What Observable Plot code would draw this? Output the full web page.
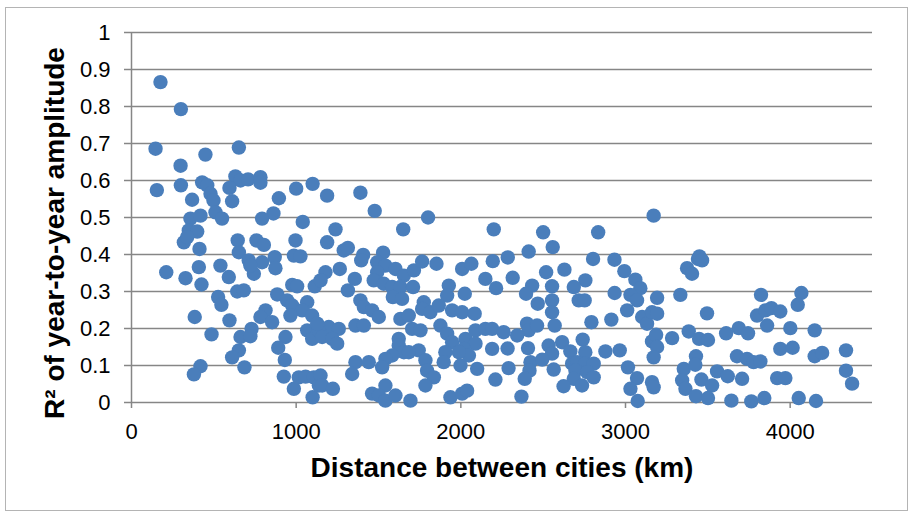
<!DOCTYPE html>
<html><head><meta charset="utf-8">
<script src="https://cdn.jsdelivr.net/npm/d3@7"></script>
<script src="https://cdn.jsdelivr.net/npm/@observablehq/plot@0.6"></script>
<style>
html,body{margin:0;padding:0;background:#fff;}
#chart{position:relative;width:914px;height:512px;}
</style></head><body><div id="chart"></div>
<script>
const distanceKm = [
176,300,146,652,449,298,154,300,429,460,480,498,368,631,662,708,783,783,595,611,895,1000,1100,510,550,358,419,862,793,1040,
1188,1390,1477,1801,3171,
348,399,318,338,413,645,652,759,804,996,986,1026,870,712,793,874,743,722,540,591,409,211,328,425,976,1006,1113,642,682,885,526,546,945,976,1067,1036,965,1097,814,783,854,384,595,729,1067,1097,486,662,722,935,891,652,611,931,419,379,686,925,986,1016,1057,1107,1100,1138,
1239,1650,2200,1188,1289,1314,1407,1395,1528,1492,1542,1492,1471,1532,1603,1654,1715,1765,1852,2008,2064,2194,2285,1178,1148,1265,1356,1314,1583,1633,1710,1587,1643,1927,1917,2024,2149,2214,1390,1411,1461,1502,1775,1765,1815,1866,1947,2008,2084,1633,1684,1360,1411,1198,1259,1138,1158,1219,1249,1128,1704,1755,1623,1876,1917,1947,2028,2089,2149,2190,2260,2190,2284,2089,2018,2049,1988,1906,1896,1998,2099,2210,1623,1654,1583,1542,1744,1785,1795,1836,1785,1360,1441,1340,1522,1684,1148,1158,1223,1461,1542,1502,1542,1603,1694,1937,2008,2038,2290,
2500,2834,2412,2558,2803,2933,2993,3060,3090,3374,3404,3440,2315,2518,2629,2433,2396,2554,2756,2686,2934,3030,3070,3192,3333,2467,2554,2554,2716,2752,3010,3101,3131,3161,3192,2793,2914,2402,2412,2463,2570,2342,2408,2533,2615,2740,2665,2554,2756,2878,2965,3161,3186,3283,3384,3192,3171,2423,2494,2417,2388,2368,2564,2676,2706,2756,2807,2696,2767,2807,2686,2736,2624,3015,3070,3030,3074,3161,3171,3354,3344,3364,3428,3428,3447,
3449,3465,3823,4068,4046,3495,3799,3850,3886,3940,3860,3688,3744,3611,4001,4149,3501,3940,4015,4149,4194,4339,3677,3738,3778,3819,3424,3556,3621,3708,3461,3526,3921,3971,4339,4376,3501,3643,3764,3843,4052,4157
];
const r2 = [
0.866,0.793,0.686,0.689,0.670,0.640,0.574,0.587,0.595,0.587,0.564,0.546,0.548,0.611,0.600,0.603,0.609,0.594,0.580,0.544,0.552,0.578,0.591,0.514,0.497,0.497,0.505,0.511,0.497,0.488,
0.559,0.567,0.518,0.500,0.505,
0.465,0.462,0.433,0.447,0.415,0.438,0.406,0.438,0.426,0.438,0.397,0.395,0.393,0.384,0.379,0.363,0.348,0.370,0.370,0.339,0.366,0.352,0.336,0.319,0.318,0.314,0.314,0.300,0.303,0.292,0.285,0.264,0.276,0.262,0.271,0.249,0.235,0.235,0.249,0.231,0.217,0.231,0.222,0.199,0.195,0.172,0.184,0.177,0.179,0.177,0.148,0.141,0.122,0.115,0.098,0.076,0.095,0.070,0.037,0.068,0.070,0.068,0.014,0.046,
0.468,0.468,0.468,0.433,0.411,0.418,0.399,0.384,0.405,0.379,0.370,0.352,0.330,0.321,0.361,0.343,0.357,0.381,0.375,0.361,0.375,0.382,0.392,0.352,0.330,0.361,0.334,0.303,0.312,0.312,0.312,0.285,0.280,0.316,0.289,0.294,0.334,0.309,0.276,0.258,0.249,0.231,0.271,0.253,0.244,0.262,0.249,0.244,0.240,0.226,0.235,0.208,0.208,0.204,0.199,0.195,0.177,0.172,0.159,0.213,0.199,0.195,0.172,0.208,0.186,0.163,0.172,0.195,0.199,0.199,0.190,0.145,0.146,0.159,0.145,0.127,0.136,0.136,0.109,0.100,0.091,0.062,0.154,0.136,0.127,0.118,0.141,0.114,0.086,0.068,0.046,0.109,0.109,0.077,0.095,0.136,0.073,0.046,0.037,0.024,0.046,0.019,0.005,0.019,0.005,0.014,0.024,0.032,0.093,
0.460,0.460,0.408,0.420,0.388,0.386,0.355,0.332,0.309,0.363,0.348,0.388,0.337,0.352,0.359,0.316,0.294,0.314,0.330,0.312,0.296,0.291,0.276,0.283,0.291,0.267,0.276,0.244,0.276,0.276,0.249,0.231,0.213,0.244,0.240,0.217,0.224,0.213,0.195,0.208,0.208,0.181,0.147,0.154,0.163,0.170,0.138,0.132,0.136,0.138,0.141,0.165,0.183,0.174,0.192,0.150,0.122,0.109,0.116,0.086,0.064,0.016,0.089,0.105,0.109,0.105,0.105,0.086,0.082,0.068,0.064,0.046,0.044,0.095,0.066,0.037,0.004,0.055,0.041,0.091,0.060,0.037,0.017,0.125,0.172,
0.395,0.384,0.291,0.296,0.264,0.241,0.235,0.249,0.255,0.246,0.208,0.201,0.187,0.187,0.201,0.195,0.169,0.145,0.148,0.125,0.134,0.141,0.125,0.118,0.109,0.111,0.102,0.084,0.071,0.064,0.062,0.046,0.066,0.066,0.086,0.051,0.012,0.005,0.003,0.012,0.012,0.004
];
const xTicks = [0, 1000, 2000, 3000, 4000];
const yTicks = [0, 0.1, 0.2, 0.3, 0.4, 0.5, 0.6, 0.7, 0.8, 0.9, 1];
const xTitle = "Distance between cities (km)";
const yTitle = "R² of year-to-year amplitude";

const n = Math.min(distanceKm.length, r2.length);
const points = distanceKm.slice(0, n).map((d, i) => ({distance: d, r2: r2[i]}));
const gray = "#868686";

const plot = Plot.plot({
  width: 914, height: 512,
  marginLeft: 131, marginRight: 42, marginTop: 32, marginBottom: 110,
  style: {fontFamily: "'Liberation Sans', Arial, sans-serif", fontSize: "22px", color: "#000", background: "#fff", overflow: "visible"},
  x: {domain: [0, 4500]},
  y: {domain: [0, 1]},
  marks: [
    Plot.gridY(yTicks, {stroke: gray, strokeOpacity: 1, strokeWidth: 1.5}),
    Plot.ruleX([0], {stroke: gray, strokeWidth: 1.5}),
    Plot.axisY(yTicks, {tickSize: 7, tickPadding: 14, stroke: gray, strokeWidth: 1.5, fill: "#000", tickFormat: d => String(+d.toFixed(1)), label: null}),
    Plot.axisX(xTicks, {tickSize: 6, tickPadding: 15, stroke: gray, strokeWidth: 1.5, fill: "#000", tickFormat: d => String(d), label: null}),
    Plot.dot(points, {x: "distance", y: "r2", r: 7.2, fill: "#4a7ebb", stroke: "none"})
  ]
});

const svg = d3.select(plot);
svg.insert("rect", ":first-child")
  .attr("x", 5.5).attr("y", 7.5).attr("width", 902).attr("height", 503)
  .attr("fill", "#fff").attr("stroke", "#b4b4b4").attr("stroke-width", 1);
svg.append("text")
  .attr("x", 502).attr("y", 477)
  .attr("text-anchor", "middle")
  .attr("font-size", 28).attr("font-weight", "bold").attr("fill", "#000")
  .text(xTitle);
svg.append("text")
  .attr("transform", "translate(63.5,233) rotate(-90)")
  .attr("text-anchor", "middle")
  .attr("font-size", 28).attr("font-weight", "bold").attr("fill", "#000")
  .text(yTitle);

document.getElementById("chart").appendChild(plot);
</script>
</body></html>
